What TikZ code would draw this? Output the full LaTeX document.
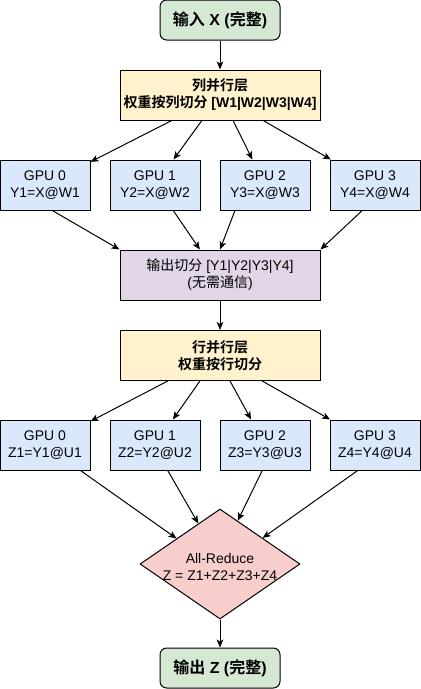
\documentclass[tikz,border=0pt]{standalone}
\usepackage{fontspec}
\setmainfont{Liberation Sans}
\newfontfamily\cjkfont{Noto Sans CJK SC}[BoldFont={Noto Sans CJK SC Bold}]
\newcommand\zhtxt[1]{{\cjkfont #1}}
\usetikzlibrary{shapes.geometric,arrows.meta,calc}
\definecolor{termgreen}{HTML}{D5E8D4}
\definecolor{layeryellow}{HTML}{FFF2CC}
\definecolor{gpublue}{HTML}{DAE8FC}
\definecolor{splitpurple}{HTML}{E1D5E7}
\definecolor{reducered}{HTML}{F8CECC}
\begin{document}
\begin{tikzpicture}[x=0.75pt,y=-0.75pt,
  base/.style={draw=black, line width=0.75pt, align=center, inner sep=0pt,
    font=\fontsize{10.5}{12.75}\selectfont},
  gpubox/.style={base, fill=gpublue, minimum width=67.5pt, minimum height=37.5pt},
  layerbox/.style={base, fill=layeryellow, minimum width=150pt, minimum height=37.5pt,
    font=\bfseries\fontsize{10.5}{12.75}\selectfont},
  splitbox/.style={base, fill=splitpurple, minimum width=150pt, minimum height=37.5pt},
  termbox/.style={base, fill=termgreen, rounded corners=5pt, minimum width=90pt,
    minimum height=30pt, font=\bfseries\fontsize{12}{14}\selectfont},
  reducebox/.style={base, diamond, fill=reducered, minimum width=120pt, minimum height=82.5pt},
  arr/.style={-{Stealth[length=6pt,width=5pt,inset=1.5pt]}, line width=0.75pt}
]
\useasboundingbox (0,0) rectangle (421,689);

\node[termbox] (in) at (220,20) {\zhtxt{输入} X (\zhtxt{完整})};
\node[layerbox] (col) at (220,95) {\zhtxt{列并行层}\\\zhtxt{权重按列切分} [W1|W2|W3|W4]};

\node[gpubox] (ga0) at (45,185) {GPU 0\\Y1=X@W1};
\node[gpubox] (ga1) at (155,185) {GPU 1\\Y2=X@W2};
\node[gpubox] (ga2) at (265,185) {GPU 2\\Y3=X@W3};
\node[gpubox] (ga3) at (375,185) {GPU 3\\Y4=X@W4};

\node[splitbox] (split) at (220,275) {\zhtxt{输出切分} [Y1|Y2|Y3|Y4]\\(\zhtxt{无需通信})};
\node[layerbox] (row) at (220,355.5) {\zhtxt{行并行层}\\\zhtxt{权重按行切分}};

\node[gpubox] (gb0) at (45,445) {GPU 0\\Z1=Y1@U1};
\node[gpubox] (gb1) at (155,445) {GPU 1\\Z2=Y2@U2};
\node[gpubox] (gb2) at (265,445) {GPU 2\\Z3=Y3@U3};
\node[gpubox] (gb3) at (375,445) {GPU 3\\Z4=Y4@U4};

\node[reducebox, label={[font=\fontsize{10.5}{12.75}\selectfont, align=center, yshift=-2pt]center:All-Reduce\\Z = Z1+Z2+Z3+Z4}] (red) at (220,564) {};
\node[termbox] (out) at (220,668) {\zhtxt{输出} Z (\zhtxt{完整})};

% connectors
\draw[arr] (in) -- (col);
\draw[arr] ($(col.south west)!0.26!(col.south east)$) -- (ga0);
\draw[arr] ($(col.south west)!0.41!(col.south east)$) -- (ga1);
\draw[arr] ($(col.south west)!0.565!(col.south east)$) -- (ga2);
\draw[arr] ($(col.south west)!0.715!(col.south east)$) -- (ga3);

\draw[arr] ($(ga0.south west)!0.58!(ga0.south east)$) -- ($(split.north west)!0.0!(split.north east)$);
\draw[arr] ($(ga1.south west)!0.70!(ga1.south east)$) -- ($(split.north west)!0.4!(split.north east)$);
\draw[arr] ($(ga2.south west)!0.17!(ga2.south east)$) -- ($(split.north west)!0.5!(split.north east)$);
\draw[arr] ($(ga3.south west)!0.36!(ga3.south east)$) -- ($(split.north west)!1.0!(split.north east)$);

\draw[arr] (split) -- (row);
\draw[arr] ($(row.south west)!0.24!(row.south east)$) -- (gb0);
\draw[arr] ($(row.south west)!0.40!(row.south east)$) -- (gb1);
\draw[arr] ($(row.south west)!0.55!(row.south east)$) -- (gb2);
\draw[arr] ($(row.south west)!0.71!(row.south east)$) -- (gb3);

\draw[arr] ($(gb0.south west)!0.89!(gb0.south east)$) -- ($(red.north)!0.54!(red.west)$);
\draw[arr] ($(gb1.south west)!0.64!(gb1.south east)$) -- ($(red.north)!0.27!(red.west)$);
\draw[arr] ($(gb2.south west)!0.47!(gb2.south east)$) -- ($(red.north)!0.22!(red.east)$);
\draw[arr] ($(gb3.south west)!0.31!(gb3.south east)$) -- ($(red.north)!0.53!(red.east)$);

\draw[arr] (red) -- (out);
\end{tikzpicture}
\end{document}
